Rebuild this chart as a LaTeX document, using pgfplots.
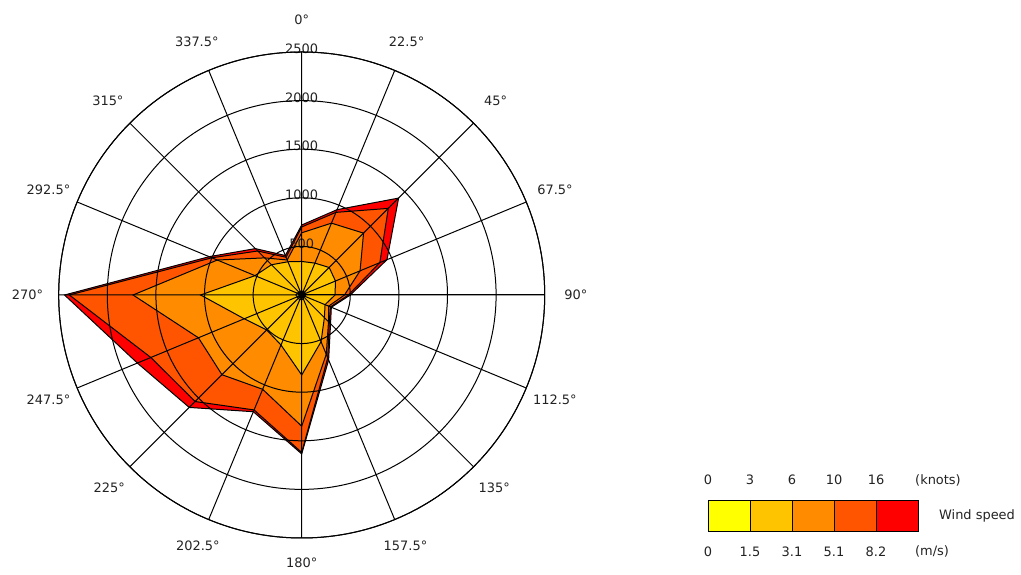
\documentclass[border=0pt]{standalone}
\usepackage{fontspec}
\setmainfont{DejaVu Sans}
\usepackage{pgfplots}
\pgfplotsset{compat=1.18}
\usepgfplotslibrary{polar}
\usepackage{pgfplotstable}

% math angle (counterclockwise from east) = 90 - compass direction
% cumulative frequency per wind speed class
\pgfplotstableread{
a     l1  l2    l3    l4    l5
90    40  345   640   700   720
67.5  40  355   800   920   950
45    40  400   900   1260  1410
22.5  40  376   650   870   950
0     40  343   440   480   500
337.5 30  260   300   320   330
315   30  330   390   400   420
292.5 40  520   660   700   724
270   50  823   1350  1620  1635
247.5 50  557   1050  1280  1300
225   50  509   1160  1550  1636
202.5 50  640   1150  1680  1830
180   60  1040  1735  2390  2440
157.5 50  520   940   1000  1030
135   40  440   540   640   675
112.5 40  370   390   420   440
}\wind

\definecolor{c1}{HTML}{FFFF00}
\definecolor{c2}{HTML}{FFC400}
\definecolor{c3}{HTML}{FF8C00}
\definecolor{c4}{HTML}{FF5500}
\definecolor{c5}{HTML}{FF0000}
\definecolor{txt}{HTML}{222222}

\begin{document}
\begin{tikzpicture}[x=1bp,y=1bp,every node/.style={font=\fontsize{13}{15}\selectfont,text=txt}]
\useasboundingbox (0,0) rectangle (1021,575);
\begin{polaraxis}[
  at={(301.7bp,280bp)}, anchor=center,
  width=486bp, height=486bp, scale only axis,
  xmin=0, xmax=360, ymin=0, ymax=2500,
  xtick={0,22.5,...,337.5}, xticklabel={\relax},
  ytick={500,1000,1500,2000,2500}, yticklabel={\relax},
  grid=major, major grid style={black, line width=1bp},
  axis line style={black, line width=1bp},
  major tick length=0pt,
  axis on top,
  clip=false,
]
\addplot[draw=black, line width=1bp, fill=c5] table[x=a,y=l5] {\wind} -- cycle;
\addplot[draw=black, line width=1bp, fill=c4] table[x=a,y=l4] {\wind} -- cycle;
\addplot[draw=black, line width=1bp, fill=c3] table[x=a,y=l3] {\wind} -- cycle;
\addplot[draw=black, line width=1bp, fill=c2] table[x=a,y=l2] {\wind} -- cycle;
\addplot[draw=black, line width=1bp, fill=c1] table[x=a,y=l1] {\wind} -- cycle;

\node[yshift=3bp] at (axis cs:90,500) {500};
\node[yshift=3bp] at (axis cs:90,1000) {1000};
\node[yshift=3bp] at (axis cs:90,1500) {1500};
\node[yshift=3bp] at (axis cs:90,2000) {2000};
\node[yshift=3bp] at (axis cs:90,2500) {2500};

\node at (axis cs:90,2830) {0°};
\node at (axis cs:67.5,2820) {22.5°};
\node at (axis cs:45,2820) {45°};
\node at (axis cs:22.5,2820) {67.5°};
\node at (axis cs:0,2820) {90°};
\node at (axis cs:337.5,2820) {112.5°};
\node at (axis cs:315,2800) {135°};
\node at (axis cs:292.5,2790) {157.5°};
\node at (axis cs:270,2760) {180°};
\node at (axis cs:247.5,2790) {202.5°};
\node at (axis cs:225,2800) {225°};
\node at (axis cs:202.5,2820) {247.5°};
\node at (axis cs:180,2820) {270°};
\node at (axis cs:157.5,2820) {292.5°};
\node at (axis cs:135,2820) {315°};
\node at (axis cs:112.5,2820) {337.5°};
\end{polaraxis}

% colour key
\foreach \c [count=\i from 0] in {c1,c2,c3,c4,c5}{
  \fill[\c] (708+42*\i,43.3) rectangle (708+42*\i+42,74.3);
  \draw[black, line width=1bp] (708+42*\i,43.3) rectangle (708+42*\i+42,74.3);
}
\foreach \t [count=\i from 0] in {0,3,6,10,16}{
  \node at (708+42*\i,95) {\t};
}
\foreach \t [count=\i from 0] in {0,1.5,3.1,5.1,8.2}{
  \node at (708+42*\i,23.3) {\t};
}
\node at (938,95) {(knots)};
\node at (932,23.3) {(m/s)};
\node at (977,59) {Wind speed};
\end{tikzpicture}
\end{document}
